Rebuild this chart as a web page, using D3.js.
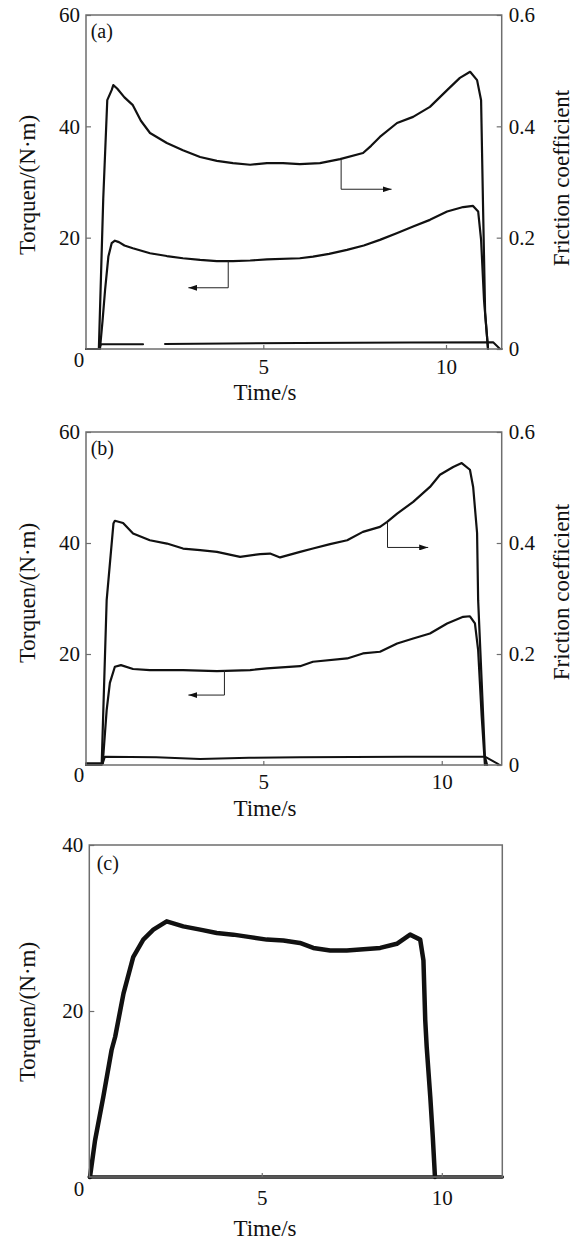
<!DOCTYPE html>
<html>
<head>
<meta charset="utf-8">
<script src="https://cdn.jsdelivr.net/npm/d3@7"></script>
<style>
body { margin:0; background:#fff; }
svg text { font-family:"Liberation Serif","Times New Roman",Times,serif; fill:#111; }
.box { fill:none; stroke:#6e6e6e; stroke-width:1.5; }
.tick line { stroke:#6e6e6e; stroke-width:1.2; }
.curve { fill:none; stroke:#111; stroke-linejoin:round; stroke-linecap:round; }
.helpline { fill:none; stroke:#222; stroke-width:1; }
</style>
</head>
<body>
<div id="chart"></div>
<script>
var fontFamily = '"Liberation Serif","Times New Roman",Times,serif'
var xAxisLabel = 'Time/s'
var yAxisLabel = 'Torquen/(N\u00b7m)'
var y2AxisLabel = 'Friction coefficient'

var xTicks = [5, 10]
var yTicks = [20, 40, 60]
var yTicksC = [20, 40]
var y2Ticks = [0, 0.2, 0.4, 0.6]

// (a) friction coefficient (right axis), torque (left), low trace (left) ; [time, value]
var frictionA = [[0.148,0],[0.50,0],[0.62,0.27],[0.73,0.447],[0.85,0.465],[0.895,0.474],[1.0,0.468],[1.2,0.452],
  [1.43,0.438],[1.65,0.41],[1.90,0.388],[2.36,0.370],[2.80,0.357],[3.27,0.345],[3.73,0.338],[4.17,0.334],
  [4.64,0.331],[5.10,0.334],[5.54,0.334],[6.00,0.332],[6.55,0.334],[7.10,0.341],[7.73,0.352],[7.95,0.365],
  [8.19,0.381],[8.66,0.406],[9.10,0.417],[9.56,0.435],[10.03,0.465],[10.38,0.487],[10.66,0.498],[10.85,0.483],
  [10.96,0.447],[11.01,0.268],[11.07,0.065],[11.15,0]]
var torqueA = [[0.53,0],[0.60,5],[0.67,10.6],[0.76,16.6],[0.85,19.0],[0.94,19.45],[1.05,19.2],[1.2,18.6],
  [1.43,18.1],[1.90,17.2],[2.36,16.7],[2.80,16.3],[3.27,16.0],[3.73,15.8],[4.17,15.8],[4.64,15.9],[5.10,16.1],
  [6.00,16.3],[6.36,16.6],[6.8,17.1],[7.29,17.8],[7.75,18.6],[8.19,19.6],[8.65,20.8],[9.10,22.0],[9.56,23.2],
  [10.03,24.7],[10.47,25.5],[10.74,25.7],[10.88,24.7],[10.96,19.6],[11.04,8.8],[11.15,0]]
var lowA = [[0.148,0],[0.50,0],[0.56,0.85],[1.71,0.85],[2.0,null],[2.31,0.9],[4.0,1.0],[6.0,1.1],[9.0,1.15],
  [11.29,1.2],[11.48,0],[11.524,0]]

// (b)
var frictionB = [[0.031,0],[0.47,0],[0.61,0.297],[0.80,0.435],[0.84,0.44],[1.07,0.436],[1.35,0.417],[1.82,0.405],
  [2.30,0.399],[2.75,0.390],[3.23,0.387],[3.70,0.384],[4.35,0.375],[4.91,0.380],[5.19,0.381],[5.47,0.374],
  [6.03,0.384],[6.39,0.390],[6.87,0.398],[7.35,0.405],[7.79,0.420],[8.27,0.429],[8.47,0.438],[8.75,0.453],
  [9.20,0.474],[9.67,0.501],[9.95,0.523],[10.32,0.537],[10.56,0.544],[10.79,0.532],[10.88,0.501],[10.99,0.418],
  [11.02,0.297],[11.21,0.015],[11.27,0]]
var torqueB = [[0.50,0.3],[0.61,9.9],[0.70,14.8],[0.84,17.7],[1.01,18.0],[1.35,17.3],[1.82,17.1],[2.75,17.1],
  [3.70,16.9],[4.63,17.1],[5.10,17.4],[6.03,17.8],[6.39,18.6],[7.35,19.2],[7.79,20.1],[8.27,20.4],[8.75,21.9],
  [9.20,22.8],[9.67,23.7],[10.15,25.5],[10.60,26.7],[10.79,26.8],[10.93,25.5],[11.02,20.7],[11.12,8.7],[11.21,0]]
var lowB = [[0.031,0.3],[0.50,0.3],[0.56,1.5],[2.0,1.4],[3.23,1.1],[4.6,1.3],[6.03,1.4],[9.0,1.5],[11.21,1.5],[11.63,0]]

// (c)
var torqueC = [[0.23,0],[0.37,4.4],[0.60,9.65],[0.83,15.3],[0.93,16.9],[1.16,22.1],[1.43,26.5],[1.71,28.6],
  [1.99,29.8],[2.36,30.8],[2.82,30.2],[3.29,29.8],[3.75,29.4],[4.21,29.2],[4.68,28.9],[5.14,28.6],[5.60,28.5],
  [6.06,28.2],[6.43,27.6],[6.90,27.3],[7.36,27.3],[8.29,27.6],[8.75,28.1],[9.12,29.2],[9.40,28.6],[9.49,26.1],
  [9.54,18.9],[9.58,15.7],[9.68,9.65],[9.75,4.8],[9.81,0]]
var lowC = [[0.211,0],[11.68,0]]

// arrow paths: [time, value] in the units of the axis they point to
var arrowFrictionA = [[7.13,0.340],[7.13,0.287],[8.51,0.287]]
var arrowTorqueA = [[4.04,15.8],[4.04,11.0],[2.95,11.0]]
var arrowFrictionB = [[8.48,0.437],[8.48,0.392],[9.62,0.392]]
var arrowTorqueB = [[3.91,17.1],[3.91,12.6],[2.90,12.6]]

var panels = [
  {label:'(a)', left:86, right:501.7, top:15, bottom:349, xDomain:[0.148,11.524], yMax:60, yTicks:yTicks,
   rightAxis:true, xPad:10, labelX:90.7, labelY:38, titleY:185, title2Y:178, zeroY:360, timeY:400,
   series:[{data:frictionA, axis:'r', w:2.2},{data:torqueA, axis:'l', w:2.2},{data:lowA, axis:'l', w:2}],
   arrows:[{data:arrowFrictionA, axis:'r'},{data:arrowTorqueA, axis:'l'}]},
  {label:'(b)', left:86, right:501.7, top:432, bottom:765, xDomain:[0.031,11.68], yMax:60, yTicks:yTicks,
   rightAxis:true, xPad:9, labelX:90.7, labelY:455, titleY:593, title2Y:592, zeroY:775, timeY:816,
   series:[{data:frictionB, axis:'r', w:2.2},{data:torqueB, axis:'l', w:2.2},{data:lowB, axis:'l', w:2}],
   arrows:[{data:arrowFrictionB, axis:'r'},{data:arrowTorqueB, axis:'l'}]},
  {label:'(c)', left:89.3, right:502.3, top:845, bottom:1177, xDomain:[0.211,11.68], yMax:40, yTicks:yTicksC,
   rightAxis:false, xPad:13, labelX:96.7, labelY:870, titleY:1012, zeroY:1189, timeY:1236,
   series:[{data:torqueC, axis:'l', w:4.5},{data:lowC, axis:'l', w:3.5}],
   arrows:[]}
]

var svg = d3.select('#chart').append('svg')
  .attr('width', 579).attr('height', 1241)
  .attr('font-family', fontFamily)

svg.append('defs').append('marker')
  .attr('id','arrowHead')
  .attr('markerUnits','userSpaceOnUse')
  .attr('markerWidth',9).attr('markerHeight',6)
  .attr('refX',9).attr('refY',3)
  .attr('orient','auto')
  .append('path').attr('d','M0,0 L9,3 L0,6 z').attr('fill','#111')

function y2Format(d) { return d === 0 ? '0' : d3.format('.1f')(d) }

function DrawPanel(p) {
  var g = svg.append('g')
  var xScale = d3.scaleLinear().domain(p.xDomain).range([p.left, p.right])
  var yScale = d3.scaleLinear().domain([0, p.yMax]).range([p.bottom, p.top])
  var y2Scale = d3.scaleLinear().domain([0, p.yMax / 100]).range([p.bottom, p.top])

  // curves
  p.series.forEach(function(s) {
    var sc = s.axis == 'r' ? y2Scale : yScale
    var line = d3.line()
      .defined(function(d) { return d[1] != null })
      .x(function(d) { return xScale(d[0]) })
      .y(function(d) { return sc(d[1]) })
    g.append('path').datum(s.data)
      .attr('class','curve')
      .attr('stroke-width', s.w)
      .attr('d', line)
  })

  // arrows pointing to the axis of each curve
  p.arrows.forEach(function(a) {
    var sc = a.axis == 'r' ? y2Scale : yScale
    var line = d3.line()
      .x(function(d) { return xScale(d[0]) })
      .y(function(d) { return sc(d[1]) })
    g.append('path').datum(a.data)
      .attr('class','helpline')
      .attr('marker-end','url(#arrowHead)')
      .attr('d', line)
  })

  // frame
  g.append('rect')
    .attr('class','box')
    .attr('x', p.left).attr('y', p.top)
    .attr('width', p.right - p.left).attr('height', p.bottom - p.top)

  // axes, ticks pointing inward
  var xAxis = d3.axisBottom(xScale).tickValues(xTicks).tickSizeInner(-4).tickSizeOuter(0)
    .tickPadding(p.xPad).tickFormat(d3.format('d'))
  var xg = g.append('g').attr('transform','translate(0,' + p.bottom + ')').call(xAxis)

  var yAxis = d3.axisLeft(yScale).tickValues(p.yTicks).tickSizeInner(-5).tickSizeOuter(0)
    .tickPadding(6).tickFormat(d3.format('d'))
  var yg = g.append('g').attr('transform','translate(' + p.left + ',0)').call(yAxis)

  var axes = [xg, yg]
  if (p.rightAxis) {
    var y2Axis = d3.axisRight(y2Scale).tickValues(y2Ticks).tickSizeInner(-5).tickSizeOuter(0)
      .tickPadding(7).tickFormat(y2Format)
    axes.push(g.append('g').attr('transform','translate(' + p.right + ',0)').call(y2Axis))
  }
  axes.forEach(function(a) {
    a.attr('font-family', fontFamily)
    a.select('.domain').remove()
    a.selectAll('text').style('font-size','21px').style('font-family', fontFamily).attr('fill','#111')
  })

  // shared origin label
  g.append('text')
    .attr('x', 79).attr('y', p.zeroY).attr('dy','0.35em')
    .style('text-anchor','middle').style('font-size','21px')
    .text('0')

  g.append('text')
    .attr('x', p.labelX).attr('y', p.labelY)
    .style('font-size','20px')
    .text(p.label)

  g.append('text')
    .attr('x', 265).attr('y', p.timeY)
    .style('text-anchor','middle').style('font-size','23px')
    .text(xAxisLabel)

  g.append('text')
    .attr('transform','translate(27,' + p.titleY + ') rotate(-90)')
    .attr('dy','0.35em')
    .style('text-anchor','middle').style('font-size','23px')
    .text(yAxisLabel)

  if (p.rightAxis) {
    g.append('text')
      .attr('transform','translate(561,' + p.title2Y + ') rotate(-90)')
      .attr('dy','0.35em')
      .style('text-anchor','middle').style('font-size','23px')
      .text(y2AxisLabel)
  }
}

panels.forEach(DrawPanel)
</script>
</body>
</html>
